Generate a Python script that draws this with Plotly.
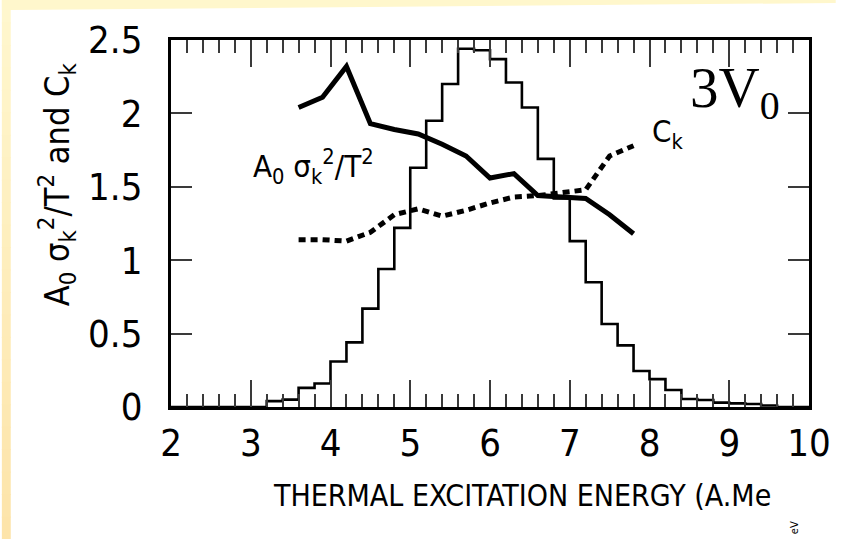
import plotly.graph_objects as go

# Thermal excitation energy grid for the fluctuation curves (A.MeV)
energy = [3.6, 3.9, 4.2, 4.5, 4.8, 5.1, 5.4, 5.7, 6.0, 6.3, 6.6, 6.9, 7.2, 7.5, 7.8]
# A0 sigma_k^2 / T^2
sigma_ratio = [2.04, 2.11, 2.32, 1.93, 1.89, 1.86, 1.79, 1.71, 1.56, 1.59, 1.44, 1.43, 1.42, 1.31, 1.18]
# C_k
ck = [1.14, 1.14, 1.13, 1.19, 1.31, 1.35, 1.30, 1.34, 1.39, 1.43, 1.44, 1.46, 1.48, 1.71, 1.78]

# Event distribution histogram: left bin edges (width 0.2) and heights
hist_left = [2.0, 2.2, 2.4, 2.6, 2.8, 3.0, 3.2, 3.4, 3.6, 3.8,
             4.0, 4.2, 4.4, 4.6, 4.8, 5.0, 5.2, 5.4, 5.6, 5.8,
             6.0, 6.2, 6.4, 6.6, 6.8, 7.0, 7.2, 7.4, 7.6, 7.8,
             8.0, 8.2, 8.4, 8.6, 8.8, 9.0, 9.2, 9.4, 9.6, 9.8]
hist_val = [0.0, 0.0, 0.0, 0.0, 0.0, 0.0, 0.04, 0.05, 0.13, 0.16,
            0.31, 0.44, 0.67, 0.94, 1.22, 1.63, 1.95, 2.20, 2.44, 2.43,
            2.37, 2.21, 2.04, 1.69, 1.42, 1.13, 0.85, 0.565, 0.42, 0.245,
            0.19, 0.116, 0.054, 0.048, 0.03, 0.025, 0.02, 0.01, 0.0, 0.0]
bin_width = 0.2

x_ticks = [2, 3, 4, 5, 6, 7, 8, 9, 10]
y_ticks = [0, 0.5, 1, 1.5, 2, 2.5]
x_range = [2, 10]
y_range = [0, 2.5]

W, H = 843, 539
L, R, T, B = 171, 816, 40, 407


def px(x):
    return (x - L) / (R - L)


def py(y):
    return (B - y) / (B - T)


NARROW = "DejaVu Sans Condensed, Liberation Sans Narrow, sans-serif"

fig = go.Figure()

# histogram outline as a step line
step_x = hist_left + [hist_left[-1] + bin_width]
step_y = hist_val + [hist_val[-1]]
fig.add_trace(go.Scatter(x=step_x, y=step_y, mode="lines", line_shape="hv",
                         line=dict(color="black", width=2.6), hoverinfo="skip"))

fig.add_trace(go.Scatter(x=energy, y=ck, mode="lines",
                         line=dict(color="black", width=5, dash="7px,5px")))
fig.add_trace(go.Scatter(x=energy, y=sigma_ratio, mode="lines",
                         line=dict(color="black", width=5)))

shapes = []
# slide background: orange-to-yellow strip down the left edge
n = 24
c_top = (255, 247, 206)
c_bot = (253, 228, 170)
for i in range(n):
    f = i / (n - 1)
    c = tuple(round(c_top[k] + (c_bot[k] - c_top[k]) * f) for k in range(3))
    y0 = H * i / n
    y1 = H * (i + 1) / n + 1
    shapes.append(dict(type="rect", xref="paper", yref="paper", layer="below",
                       x0=px(0), x1=px(9), y0=py(y0), y1=py(y1),
                       fillcolor="rgb(%d,%d,%d)" % c, line=dict(width=0)))
# pale yellow strip along the top edge
path = "M {} {} L {} {} L {} {} L {} {} L {} {} Z".format(
    px(0), py(0), px(W), py(0), px(W), py(3), px(9), py(10), px(0), py(10))
shapes.append(dict(type="path", xref="paper", yref="paper", layer="below",
                   path=path, fillcolor="rgb(255,247,204)", line=dict(width=0)))

annotations = [
    dict(text="A<sub>0</sub> σ<sub>k</sub><sup>2</sup>/T<sup>2</sup> and C<sub>k</sub>",
         textangle=-90, xref="paper", yref="paper", x=px(55), y=py(184),
         xanchor="center", yanchor="middle", showarrow=False,
         font=dict(family=NARROW, size=34, color="black")),
    dict(text="THERMAL EXCITATION ENERGY (A.Me", xref="paper", yref="paper",
         x=px(272), y=py(496), xanchor="left", yanchor="middle", showarrow=False,
         font=dict(family=NARROW, size=30, color="black")),
    dict(text="A<sub>0</sub> σ<sub>k</sub><sup>2</sup>/T<sup>2</sup>", xref="paper", yref="paper",
         x=px(252), y=py(166), xanchor="left", yanchor="middle", showarrow=False,
         font=dict(family=NARROW, size=31, color="black")),
    dict(text="C<sub>k</sub>", xref="paper", yref="paper",
         x=px(655), y=py(133), xanchor="left", yanchor="middle", showarrow=False,
         font=dict(family=NARROW, size=31, color="black")),
    dict(text="3V<sub>0</sub>", xref="paper", yref="paper",
         x=px(694), y=py(92), xanchor="left", yanchor="middle", showarrow=False,
         font=dict(family="Liberation Serif, serif", size=57, color="black")),
    dict(text="eV", xref="paper", yref="paper",
         x=px(801), y=py(528), xanchor="center", yanchor="middle", showarrow=False,
         textangle=-90, font=dict(family=NARROW, size=11, color="black")),
]

tick_col = "#3a3a3a"
tickfont = dict(family=NARROW, size=38, color="black")

fig.update_layout(
    width=W, height=H,
    margin=dict(l=L, r=W - R, t=T, b=H - B),
    paper_bgcolor="white", plot_bgcolor="white",
    showlegend=False,
    shapes=shapes, annotations=annotations,
    xaxis=dict(range=x_range, tickvals=x_ticks, ticktext=[str(v) for v in x_ticks],
               showline=True, linecolor="black", linewidth=3, mirror="allticks",
               ticks="inside", ticklen=27, tickwidth=2, tickcolor=tick_col,
               minor=dict(dtick=0.2, ticks="inside", ticklen=13, tickwidth=2, tickcolor=tick_col),
               showgrid=False, zeroline=False, tickfont=tickfont,
               ticklabelstandoff=0),
    yaxis=dict(range=y_range, tickvals=y_ticks, ticktext=["0", "0.5", "1", "1.5", "2", "2.5"],
               showline=True, linecolor="black", linewidth=3, mirror="allticks",
               ticks="inside", ticklen=21, tickwidth=2, tickcolor=tick_col,
               showgrid=False, zeroline=False, tickfont=tickfont,
               ticklabelstandoff=18),
)

fig.write_html("out.html")
